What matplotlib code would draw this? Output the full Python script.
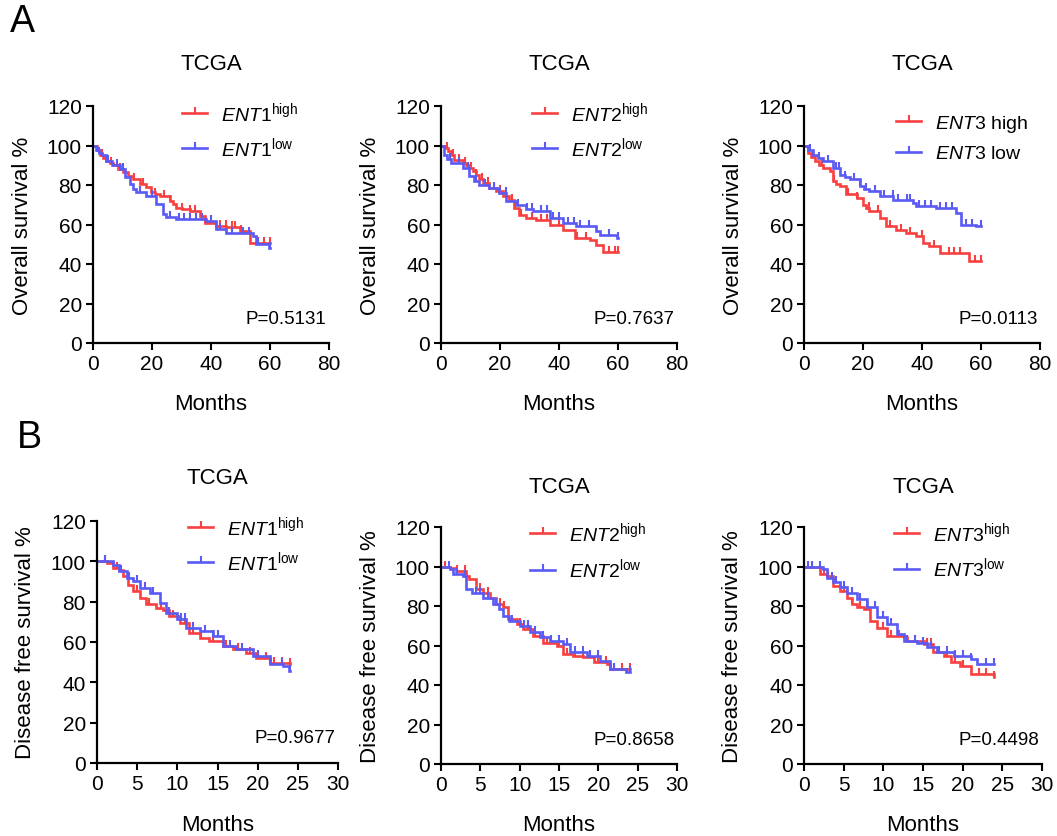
import numpy as np
import matplotlib
matplotlib.use("Agg")
import matplotlib.pyplot as plt
from matplotlib.lines import Line2D

plt.rcParams['font.family'] = ['Liberation Sans', 'DejaVu Sans']
plt.rcParams['mathtext.fontset'] = 'custom'
plt.rcParams['mathtext.rm'] = 'Liberation Sans'
plt.rcParams['mathtext.it'] = 'Liberation Sans:italic'
plt.rcParams['mathtext.bf'] = 'Liberation Sans:bold'

RED = '#F84040'
BLUE = '#5A5AF5'

# ---------------- data ----------------
# Panel A: overall survival (months, %)
a1_hi_t = [0, 1.2, 2.3, 3.4, 4.5, 5.6, 6.8, 8.5, 10.2, 12, 13.6, 15.8, 18, 19.8, 21, 22.6, 26, 27, 28.2, 30, 32.8, 36.2, 37.9, 41.8, 45.2, 49.7, 53.1, 60]
a1_hi_s = [100, 97.5, 95, 93.5, 92, 91, 90, 88, 86.4, 84.5, 83, 80.5, 78.8, 76.3, 75.5, 74.6, 72, 70.5, 68.6, 68, 67, 64.4, 61, 59.3, 58.5, 56.8, 50.8, 50.8]
a1_lo_t = [0, 1.1, 2, 3, 4.5, 6.5, 9, 11, 12.4, 13.5, 14.7, 18, 21.5, 23.7, 24.9, 28.2, 38.4, 41.8, 45.2, 54.2, 55.4, 59.5, 60]
a1_lo_s = [100, 97.5, 96, 95, 92.4, 90, 88, 84, 80.5, 78, 76.3, 74.6, 70.3, 65.3, 63.6, 62.7, 61.9, 57.6, 55.9, 54.2, 50, 48.3, 48.3]
a1_hi_c = [3, 6, 9, 14, 17, 21, 24, 26, 30, 33, 34.5, 38, 43, 45, 47, 48, 50, 56, 58, 60]
a1_lo_c = [2, 5, 8, 10, 16, 20, 26, 29, 31, 33, 35, 37, 40, 43, 47, 51, 53, 56, 60]

a2_hi_t = [0, 0.8, 1.7, 2.5, 3.4, 4.5, 7.4, 8.5, 9.6, 10.8, 11.9, 13, 14.2, 16.4, 18.7, 20.9, 23.2, 24.9, 26.6, 28.9, 32.3, 36.8, 41.3, 45.3, 50.4, 52.7, 54.9, 60]
a2_hi_s = [100, 99.5, 98.8, 97, 95.4, 92.9, 91.2, 90, 88.7, 87, 85.3, 83, 81.1, 78.5, 76.9, 74.3, 72.6, 68.4, 65, 63.3, 62.5, 60, 57.4, 53.2, 52.4, 49.8, 45.9, 45.9]
a2_lo_t = [0, 1.1, 2.2, 3.4, 7.4, 9.6, 11.3, 13, 16.4, 19.8, 22.1, 25.5, 28.9, 31.1, 36.8, 41.3, 45.9, 52.7, 53.8, 59.5, 60]
a2_lo_s = [100, 95.4, 93, 91.2, 88.7, 84.5, 82, 80.2, 78.5, 76, 71.8, 70.1, 67.6, 66.7, 63.3, 60.8, 59.1, 56.6, 54.9, 53.2, 53.2]
a2_hi_c = [2, 4, 6, 8, 10, 12, 14, 16, 18, 20, 24, 27, 31, 34, 36, 40, 46, 49, 57, 59, 60]
a2_lo_c = [3, 6, 9, 12, 15, 18, 22, 26, 29, 31, 34, 36, 38, 40, 43, 45, 47, 50, 57, 60]

a3_hi_t = [0, 1.5, 2.5, 3.7, 5, 6.5, 8.8, 9.9, 11, 12.1, 14.4, 17.8, 20, 21, 22.2, 25.6, 27.9, 31.2, 34.6, 38, 40.2, 42.5, 46.2, 55.9, 60]
a3_hi_s = [100, 96.3, 94, 92, 90, 88.7, 87, 81.9, 80.5, 79.4, 75.2, 73.5, 70.1, 68.5, 66.7, 63.3, 59.1, 57.4, 55.7, 54.1, 50.7, 49, 45.6, 41.4, 41.4]
a3_lo_t = [0, 1.5, 3.1, 4.8, 6.5, 9.9, 12.1, 13.8, 15.5, 18.9, 20.5, 22.2, 25.6, 30.1, 36.9, 38, 44.7, 51.5, 53.1, 58.2, 60]
a3_lo_s = [100, 97.5, 95.4, 93.5, 92, 88.7, 85.3, 84, 82.8, 79.4, 78, 76.9, 74.3, 72.6, 70.9, 69.3, 68.4, 65.9, 60, 59.1, 59.1]
a3_hi_c = [3, 6, 10, 15, 18, 22, 25, 29, 33, 36, 40, 44, 49, 51, 53, 58, 60]
a3_lo_c = [2, 5, 8, 11, 12, 14, 17, 19, 21, 24, 27, 30, 32, 35, 36, 39, 41, 43, 46, 48, 50, 55, 57, 60]

# Panel B: disease free survival (months, %)
b1_hi_t = [0, 1.2, 2, 2.8, 3.2, 3.9, 4.5, 5.3, 6.1, 7.4, 8.2, 9, 10.3, 11.5, 12.8, 14, 15.7, 16.9, 18.6, 19.8, 21.5, 24]
b1_hi_s = [100, 99, 96.7, 95.9, 92.6, 88.5, 85.2, 81.9, 78.6, 76.9, 76.1, 72.8, 69.5, 64.6, 62.1, 60.5, 58, 56.3, 54.7, 52.2, 49.8, 48.9]
b1_lo_t = [0, 2, 2.8, 3.7, 4.5, 5.3, 6.6, 7.8, 8.6, 9.9, 11.1, 12.8, 14.4, 15.7, 17.3, 19.4, 21.5, 23.2, 23.9, 24]
b1_lo_s = [100, 98.4, 95, 91.8, 90.1, 86.8, 84.3, 79.4, 74.5, 71.2, 67, 65.4, 62.9, 58, 56.3, 53, 48.9, 48.1, 45.6, 45.6]
b1_hi_c = [1, 2.5, 5, 6.5, 8, 9.5, 11, 12, 13, 14.5, 16, 17.5, 19, 20, 21, 22, 23, 24]
b1_lo_c = [1, 3, 4, 5, 6, 7, 9, 10.5, 11, 12, 13.5, 14.5, 15, 16.5, 18, 20, 21.5, 23, 24]

b2_hi_t = [0, 1.1, 1.9, 3.2, 3.6, 4.5, 5.3, 6.2, 7, 7.9, 8.5, 9.6, 10.4, 11.7, 13, 14.7, 15.5, 16.8, 18.1, 19.4, 21.1, 21.5, 24]
b2_hi_s = [100, 99, 97.8, 95.3, 93.6, 88.5, 86.8, 84.3, 80.9, 79.3, 73.4, 70.8, 68.3, 64.9, 61.5, 59.9, 55.6, 54.8, 54, 51.4, 50.6, 48.1, 48.1]
b2_lo_t = [0, 1.1, 1.5, 2.8, 3.2, 4, 5.3, 6.6, 7.4, 7.9, 8.7, 10, 11.3, 12.6, 13.8, 15.5, 16.4, 18.5, 20.2, 21.5, 23.5, 24]
b2_lo_s = [100, 98.7, 96.1, 95.3, 88.5, 86.8, 84.3, 80.9, 78.4, 75, 72.5, 70, 66.6, 64.1, 62.4, 60.7, 56.5, 54.8, 52.3, 48.1, 46.4, 46.4]
b2_hi_c = [0.5, 2, 3, 5, 6, 7.5, 8, 10, 11, 12, 13.5, 15, 16, 17, 18, 19, 20, 21, 22, 23, 24]
b2_lo_c = [1, 2, 3, 4.5, 5, 6, 7, 9, 10.5, 11, 12, 13, 14, 15, 16, 17, 18, 19, 20, 22, 24]

b3_hi_t = [0, 1.4, 2, 2.9, 3.7, 4.5, 5.4, 6, 6.7, 7.5, 8.3, 9.2, 10.4, 12.6, 13, 15.1, 16.3, 17.6, 18.5, 19.7, 21, 23.9, 24]
b3_hi_s = [100, 99.5, 96.1, 95.3, 90.2, 87.7, 84.3, 80.9, 79.3, 78.4, 72.5, 69.1, 64.9, 64.1, 62.4, 60.7, 56.5, 54.8, 51.4, 49.7, 45.5, 43.8, 43.8]
b3_lo_t = [0, 2.4, 2.9, 3.7, 4.5, 5.4, 6.7, 7.9, 9.2, 10.4, 11.7, 12.6, 14.2, 15.5, 16.8, 18.9, 21, 21.8, 24]
b3_lo_s = [100, 98.7, 94.4, 91.9, 89.4, 86.8, 83.5, 79.3, 74.2, 70.8, 65.8, 62.4, 61.5, 59, 56.5, 54.8, 53.1, 50.6, 50.6]
b3_hi_c = [0.5, 1, 2.5, 3, 5, 6, 7, 8, 10, 11, 12, 14, 15.5, 16, 18, 19, 20, 22, 23, 24]
b3_lo_c = [0.5, 1, 2, 3.5, 4, 5, 6, 7, 8, 9, 10, 11, 13, 14, 15, 16, 17, 18, 19, 20, 21, 23, 24]

p_values = ['P=0.5131', 'P=0.7637', 'P=0.0113', 'P=0.9677', 'P=0.8658', 'P=0.4498']
genes = ['ENT1', 'ENT2', 'ENT3']
os_xticks = [0, 20, 40, 60, 80]
dfs_xticks = [0, 5, 10, 15, 20, 25, 30]
yticks = [0, 20, 40, 60, 80, 100, 120]

W, H = 1057, 837
fig = plt.figure(figsize=(W / 100, H / 100), dpi=100)


def px_axes(left, right, top, bottom):
    return fig.add_axes([left / W, 1 - bottom / H, (right - left) / W, (bottom - top) / H])


def km(ax, t, s, c, color):
    t = np.asarray(t, float)
    s = np.asarray(s, float)
    ax.step(t, s, where='post', color=color, lw=1.9, solid_joinstyle='miter', clip_on=False)
    c = np.asarray(c, float)
    idx = np.searchsorted(t, c, side='right') - 1
    ax.plot(c, s[idx], linestyle='none', marker=2, markersize=4.2, mew=1.5, color=color, clip_on=False)


def style(ax, xticks, ylab, ptxt, title_y, leg_labels, leg_x, leg_y, spacing):
    ax.set_xlim(xticks[0], xticks[-1])
    ax.set_ylim(0, 120)
    ax.set_xticks(xticks)
    ax.set_yticks(yticks)
    for sp in ['top', 'right']:
        ax.spines[sp].set_visible(False)
    for sp in ['left', 'bottom']:
        ax.spines[sp].set_linewidth(1.6)
    ax.tick_params(direction='out', length=5, width=1.5, labelsize=15, pad=3)
    ax.set_xlabel('Months', fontsize=16)
    ax.set_ylabel(ylab, fontsize=16)
    ax.xaxis.set_label_coords(0.5, -0.212)
    ax.yaxis.set_label_coords(-0.255, 0.5)
    ax.text(0.99, 0.105, ptxt, transform=ax.transAxes, ha='right', va='center', fontsize=13.5)
    ax.text(0.5, title_y, 'TCGA', transform=ax.transAxes, ha='center', va='center', fontsize=16)
    handles = [Line2D([], [], color=RED, lw=1.9, marker=2, markersize=4.2, mew=1.5),
               Line2D([], [], color=BLUE, lw=1.9, marker=2, markersize=4.2, mew=1.5)]
    ax.legend(handles, leg_labels, loc='upper left', bbox_to_anchor=(leg_x, leg_y),
              frameon=False, fontsize=14, handlelength=1.3, handletextpad=0.72,
              labelspacing=spacing, borderpad=0, borderaxespad=0, numpoints=1)


def sup_labels(g):
    return [r'$\mathit{%s}^{\mathrm{high}}$' % g, r'$\mathit{%s}^{\mathrm{low}}$' % g]


axA1 = px_axes(93, 329, 107, 344)
axA2 = px_axes(441, 677, 107, 344)
axA3 = px_axes(804, 1040, 107, 344)
axB1 = px_axes(97, 338, 522, 764)
axB2 = px_axes(441, 677, 528, 765)
axB3 = px_axes(804, 1042, 528, 765)

km(axA1, a1_hi_t, a1_hi_s, a1_hi_c, RED); km(axA1, a1_lo_t, a1_lo_s, a1_lo_c, BLUE)
km(axA2, a2_hi_t, a2_hi_s, a2_hi_c, RED); km(axA2, a2_lo_t, a2_lo_s, a2_lo_c, BLUE)
km(axA3, a3_hi_t, a3_hi_s, a3_hi_c, RED); km(axA3, a3_lo_t, a3_lo_s, a3_lo_c, BLUE)
km(axB1, b1_hi_t, b1_hi_s, b1_hi_c, RED); km(axB1, b1_lo_t, b1_lo_s, b1_lo_c, BLUE)
km(axB2, b2_hi_t, b2_hi_s, b2_hi_c, RED); km(axB2, b2_lo_t, b2_lo_s, b2_lo_c, BLUE)
km(axB3, b3_hi_t, b3_hi_s, b3_hi_c, RED); km(axB3, b3_lo_t, b3_lo_s, b3_lo_c, BLUE)

style(axA1, os_xticks, 'Overall survival %', p_values[0], 1.18, sup_labels(genes[0]), 0.377, 1.026, 0.6)
style(axA2, os_xticks, 'Overall survival %', p_values[1], 1.18, sup_labels(genes[1]), 0.386, 1.026, 0.57)
style(axA3, os_xticks, 'Overall survival %', p_values[2], 1.18,
      [r'$\mathit{ENT3}$ high', r'$\mathit{ENT3}$ low'], 0.39, 0.97, 0.55)
style(axB1, dfs_xticks, 'Disease free survival %', p_values[3], 1.18, sup_labels(genes[0]), 0.378, 1.029, 0.57)
style(axB2, dfs_xticks, 'Disease free survival %', p_values[4], 1.17, sup_labels(genes[1]), 0.377, 1.03, 0.65)
style(axB3, dfs_xticks, 'Disease free survival %', p_values[5], 1.17, sup_labels(genes[2]), 0.378, 1.03, 0.6)

fig.text(10 / W, 1 - 22 / H, 'A', fontsize=27, ha='left', va='center')
fig.text(17 / W, 1 - 438 / H, 'B', fontsize=27, ha='left', va='center')

fig.savefig('out.png', dpi=100)
